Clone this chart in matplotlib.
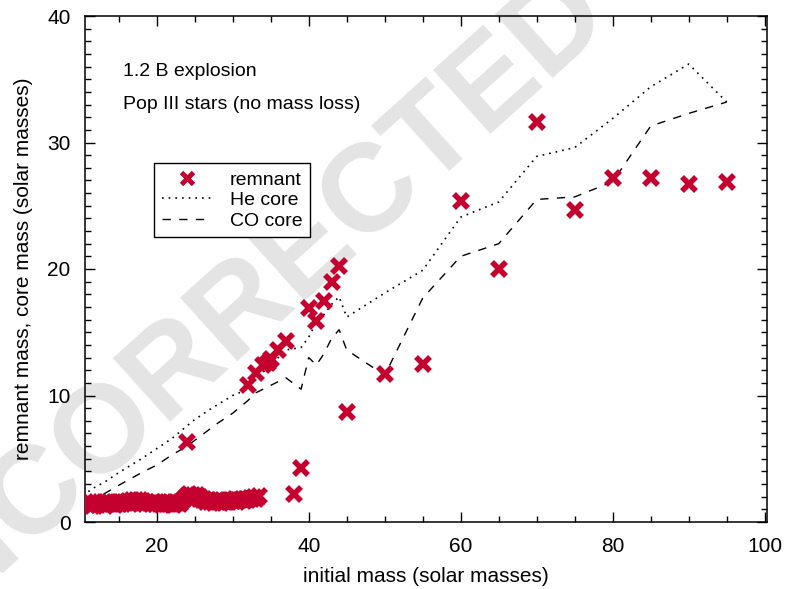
import matplotlib
matplotlib.use('Agg')
import matplotlib.pyplot as plt

plt.rcParams['font.family'] = ['Liberation Sans', 'DejaVu Sans']

# low-mass remnants (dense band)
band_mass = [11.00, 11.25, 11.50, 11.75, 12.00, 12.25, 12.50, 12.75, 13.00, 13.25,
             13.50, 13.75, 14.00, 14.25, 14.50, 14.75, 15.00, 15.25, 15.50, 15.75,
             16.00, 16.25, 16.50, 16.75, 17.00, 17.25, 17.50, 17.75, 18.00, 18.25,
             18.50, 18.75, 19.00, 19.25, 19.50, 19.75, 20.00, 20.25, 20.50, 20.75,
             21.00, 21.25, 21.50, 21.75, 22.00, 22.25, 22.50, 22.75, 23.00, 23.25,
             23.50, 23.75, 24.00, 24.25, 24.50, 24.75, 25.00, 25.25, 25.50, 25.75,
             26.00, 26.25, 26.50, 26.75, 27.00, 27.25, 27.50, 27.75, 28.00, 28.25,
             28.50, 28.75, 29.00, 29.25, 29.50, 29.75, 30.00, 30.25, 30.50, 30.75,
             31.00, 31.25, 31.50, 31.75, 32.00, 32.25, 32.50, 32.75, 33.00]
band_rem = [1.35, 1.55, 1.30, 1.45, 1.60, 1.35, 1.50, 1.40, 1.55, 1.30,
            1.45, 1.60, 1.40, 1.50, 1.35, 1.55, 1.45, 1.60, 1.40, 1.55,
            1.50, 1.65, 1.45, 1.70, 1.55, 1.75, 1.60, 1.70, 1.50, 1.65,
            1.45, 1.60, 1.50, 1.40, 1.55, 1.45, 1.60, 1.40, 1.50, 1.35,
            1.55, 1.45, 1.40, 1.60, 1.45, 1.35, 1.55, 1.50, 1.40, 1.60,
            1.75, 1.90, 2.05, 2.20, 1.95, 2.15, 2.00, 2.10, 1.85, 1.95,
            1.70, 1.80, 1.60, 1.75, 1.55, 1.70, 1.50, 1.65, 1.55, 1.70,
            1.50, 1.65, 1.60, 1.75, 1.55, 1.70, 1.65, 1.80, 1.60, 1.75,
            1.70, 1.85, 1.65, 1.80, 1.75, 1.90, 1.80, 1.95, 1.85]

# other remnants
rem_mass = [33.5, 38, 39, 24, 32, 33, 34, 34.6, 35, 36, 37, 40, 41, 42, 43, 44, 45,
            50, 55, 60, 65, 70, 75, 80, 85, 90, 95]
rem = [2.05, 2.2, 4.3, 6.3, 10.8, 11.8, 12.4, 12.6, 12.9, 13.6, 14.3, 16.9, 15.9, 17.5,
       19.0, 20.2, 8.7, 11.7, 12.5, 25.4, 20.0, 31.6, 24.7, 27.2, 27.2, 26.7, 26.9]

# He core
he_mass = [11, 12, 13, 15, 18, 20, 22, 24, 25, 27, 30, 32, 33, 35, 37, 39, 40, 41, 42,
           43, 44, 45, 50, 55, 60, 65, 70, 75, 80, 85, 90, 95]
he_core = [2.4, 2.8, 3.1, 3.9, 5.0, 5.8, 6.6, 7.6, 8.1, 8.9, 10.0, 10.5, 11.3, 12.4,
           13.6, 13.8, 14.6, 15.8, 16.4, 17.2, 17.8, 16.2, 18.1, 19.9, 24.1, 25.3,
           28.9, 29.6, 31.9, 34.4, 36.2, 33.2]

# CO core
co_mass = [11, 12, 13, 15, 18, 20, 22, 24, 26, 28, 30, 32, 33, 35, 37, 39, 40, 41, 42,
           43, 44, 45, 50, 55, 60, 65, 70, 75, 80, 85, 90, 95]
co_core = [1.7, 2.0, 2.2, 2.9, 3.9, 4.5, 5.3, 6.0, 6.9, 7.8, 8.6, 9.6, 10.2, 10.8,
           11.4, 10.5, 13.0, 12.4, 13.3, 14.5, 15.2, 13.6, 11.6, 17.7, 21.0, 22.0,
           25.5, 25.7, 26.9, 31.3, 32.3, 33.2]

red = '#C4002F'

fig = plt.figure(figsize=(7.85, 5.89), dpi=100)
ax = fig.add_axes([84.5 / 785, 1 - 522 / 589, (767 - 84.5) / 785, (522 - 16) / 589])
ax.patch.set_alpha(0)

# watermark, behind everything
fig.text(0.293, 0.458, 'UNCORRECTED', rotation=42, rotation_mode='anchor',
         ha='center', va='center', fontsize=90, fontweight='bold',
         color='#e4e4e4', zorder=-5)

ax.plot(band_mass + rem_mass, band_rem + rem, linestyle='none', marker='x',
        color=red, markersize=10, markeredgewidth=4, label='remnant', zorder=3)
ax.plot(he_mass, he_core, color='black', linewidth=1.2, linestyle=(0, (1, 3)),
        label='He core', zorder=2)
ax.plot(co_mass, co_core, color='black', linewidth=1.0, linestyle=(0, (6, 6)),
        label='CO core', zorder=2)

ax.set_xlim(10.5, 100.3)
ax.set_ylim(0, 40)
ax.set_xticks([20, 40, 60, 80, 100])
ax.set_xticks(range(15, 100, 5), minor=True)
ax.set_yticks([0, 10, 20, 30, 40])
ax.set_yticks(range(0, 41), minor=True)
ax.tick_params(which='both', direction='in', top=True, right=True, labelsize=15, width=1)
ax.tick_params(which='major', length=7)
ax.tick_params(which='minor', length=4)
ax.tick_params(axis='x', which='major', pad=11)
ax.tick_params(axis='y', which='major', pad=10)
for s in ax.spines.values():
    s.set_linewidth(1.1)

ax.set_xlabel('initial mass (solar masses)', fontsize=15, labelpad=8)
ax.set_ylabel('remnant mass, core mass (solar masses)', fontsize=15, labelpad=10)

ax.text(15.6, 35.6, '1.2 B explosion', fontsize=14, va='center')
ax.text(15.6, 33.0, 'Pop III stars (no mass loss)', fontsize=14, va='center')

leg = ax.legend(loc='upper left', bbox_to_anchor=(0.102, 0.709), borderaxespad=0,
                fontsize=14, numpoints=1, handlelength=2.6, handletextpad=0.9,
                labelspacing=0.15, borderpad=0.4, fancybox=False, framealpha=1,
                edgecolor='black')
leg.get_frame().set_linewidth(1.0)
for h in leg.legend_handles:
    if h.get_marker() == 'x':
        h.set_markersize(9)
        h.set_markeredgewidth(3.5)

fig.savefig('out.png', dpi=100)
